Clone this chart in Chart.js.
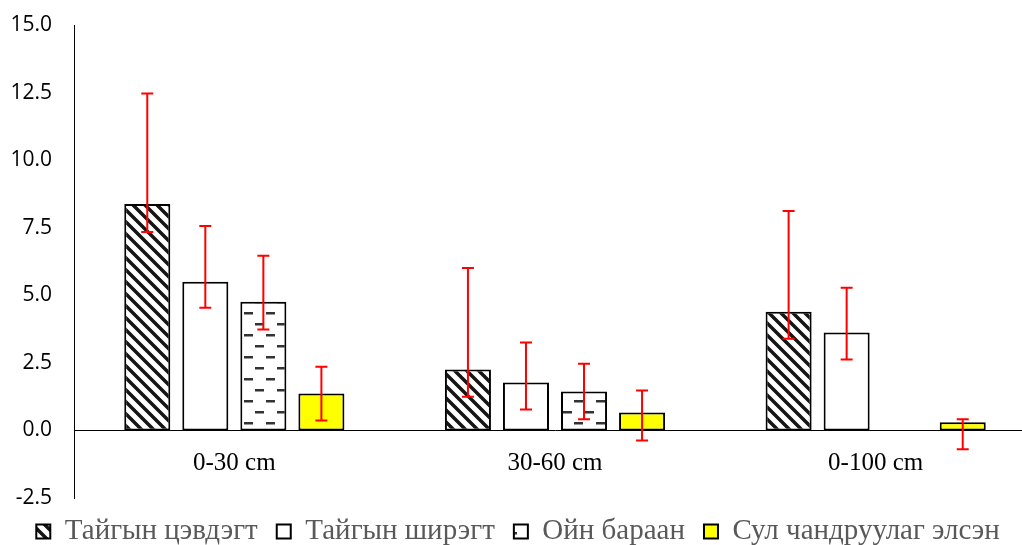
<!DOCTYPE html>
<html>
<head>
<meta charset="utf-8">
<script src="https://cdn.jsdelivr.net/npm/chart.js@4.4.1/dist/chart.umd.min.js"></script>
<style>
  html, body { margin: 0; padding: 0; background: #fff; overflow: hidden; }
  #wrap { width: 1036px; height: 545px; }
</style>
</head>
<body>
<div id="wrap"><canvas id="soilChart" width="1036" height="545"></canvas></div>
<script>
// categories (soil depth layers)
const categories = ['0-30 cm', '30-60 cm', '0-100 cm'];

// series names
const seriesNames = ['Тайгын цэвдэгт', 'Тайгын ширэгт', 'Ойн бараан', 'Сул чандруулаг элсэн'];

// bar values
const taigaPermafrost = [8.38, 2.25, 4.39];
const taigaSod = [5.50, 1.77, 3.62];
const forestDark = [4.76, 1.44, null];
const sandy = [1.37, 0.66, 0.30];

// error bar extents (above / below the bar value)
const taigaPermafrostPlus = [4.09, 3.76, 3.73];
const taigaPermafrostMinus = [1.04, 1.00, 1.00];
const taigaSodPlus = [2.06, 1.48, 1.66];
const taigaSodMinus = [0.96, 1.00, 1.00];
const forestDarkPlus = [1.70, 1.03, null];
const forestDarkMinus = [1.03, 1.03, null];
const sandyPlus = [0.99, 0.82, 0.11];
const sandyMinus = [1.00, 1.03, 1.00];

// y axis ticks
const yMin = -2.5;
const yMax = 15;
const yStep = 2.5;

function stripePattern() {
    const c = document.createElement('canvas');
    c.width = 12; c.height = 12;
    const g = c.getContext('2d');
    g.fillStyle = '#fff';
    g.fillRect(0, 0, 12, 12);
    g.strokeStyle = '#151515';
    g.lineWidth = 3.5;
    g.beginPath();
    g.moveTo(-3, -3); g.lineTo(15, 15);
    g.moveTo(-3, 9); g.lineTo(3, 15);
    g.moveTo(9, -3); g.lineTo(15, 3);
    g.stroke();
    return g.createPattern(c, 'repeat');
}

function dashPattern() {
    const c = document.createElement('canvas');
    c.width = 22; c.height = 22;
    const g = c.getContext('2d');
    g.fillStyle = '#fff';
    g.fillRect(0, 0, 22, 22);
    g.fillStyle = '#333';
    g.fillRect(2, 4, 9, 2.5);
    g.fillRect(13, 15, 9, 2.5);
    return g.createPattern(c, 'repeat');
}

const errorBars = {
    id: 'errorBars',
    afterDatasetsDraw(chart) {
        const { ctx, scales: { y } } = chart;
        ctx.save();
        ctx.strokeStyle = '#ff0000';
        ctx.lineWidth = 2;
        chart.data.datasets.forEach((ds, i) => {
            const meta = chart.getDatasetMeta(i);
            meta.data.forEach((bar, j) => {
                const v = ds.data[j];
                if (v == null) return;
                const top = y.getPixelForValue(v + ds.errPlus[j]);
                const bottom = y.getPixelForValue(v - ds.errMinus[j]);
                const x = bar.x;
                ctx.beginPath();
                ctx.moveTo(x, top); ctx.lineTo(x, bottom);
                ctx.moveTo(x - 6, top); ctx.lineTo(x + 6, top);
                ctx.moveTo(x - 6, bottom); ctx.lineTo(x + 6, bottom);
                ctx.stroke();
            });
        });
        ctx.restore();
    }
};

function barSet(label, data, plus, minus, fill) {
    return {
        label: label,
        data: data,
        errPlus: plus,
        errMinus: minus,
        backgroundColor: fill,
        borderColor: '#000',
        borderWidth: 2,
        borderSkipped: false,
        categoryPercentage: 0.724,
        barPercentage: 0.793
    };
}

const chart = new Chart(document.getElementById('soilChart').getContext('2d'), {
    type: 'bar',
    data: {
        labels: categories,
        datasets: [
            barSet(seriesNames[0], taigaPermafrost, taigaPermafrostPlus, taigaPermafrostMinus, stripePattern()),
            barSet(seriesNames[1], taigaSod, taigaSodPlus, taigaSodMinus, '#ffffff'),
            barSet(seriesNames[2], forestDark, forestDarkPlus, forestDarkMinus, dashPattern()),
            barSet(seriesNames[3], sandy, sandyPlus, sandyMinus, '#ffff00')
        ]
    },
    options: {
        responsive: false,
        animation: false,
        devicePixelRatio: 1,
        layout: { padding: { top: 25, left: 0, right: 0, bottom: 0 } },
        scales: {
            x: {
                position: { y: 0 },
                grid: { display: false },
                border: { display: true, color: '#000', width: 1 },
                ticks: {
                    color: '#000',
                    padding: 10,
                    font: { family: 'Liberation Serif', size: 25 }
                }
            },
            y: {
                min: yMin,
                max: yMax,
                grid: { display: false, drawTicks: false },
                border: { display: true, color: '#000', width: 1 },
                ticks: {
                    stepSize: yStep,
                    color: '#000',
                    padding: 22,
                    font: { family: 'Open Sans', size: 21 },
                    callback: v => Number(v).toFixed(1)
                },
                afterFit(s) {
                    s.width = 74;
                    s.paddingTop = 12;
                    s.paddingBottom = 12;
                }
            }
        },
        plugins: {
            tooltip: { enabled: false },
            legend: {
                position: 'bottom',
                maxHeight: 47,
                labels: {
                    color: '#595959',
                    boxWidth: 14,
                    boxHeight: 14,
                    padding: 19,
                    font: { family: 'Liberation Serif', size: 29 }
                }
            }
        }
    },
    plugins: [errorBars]
});
</script>
</body>
</html>
